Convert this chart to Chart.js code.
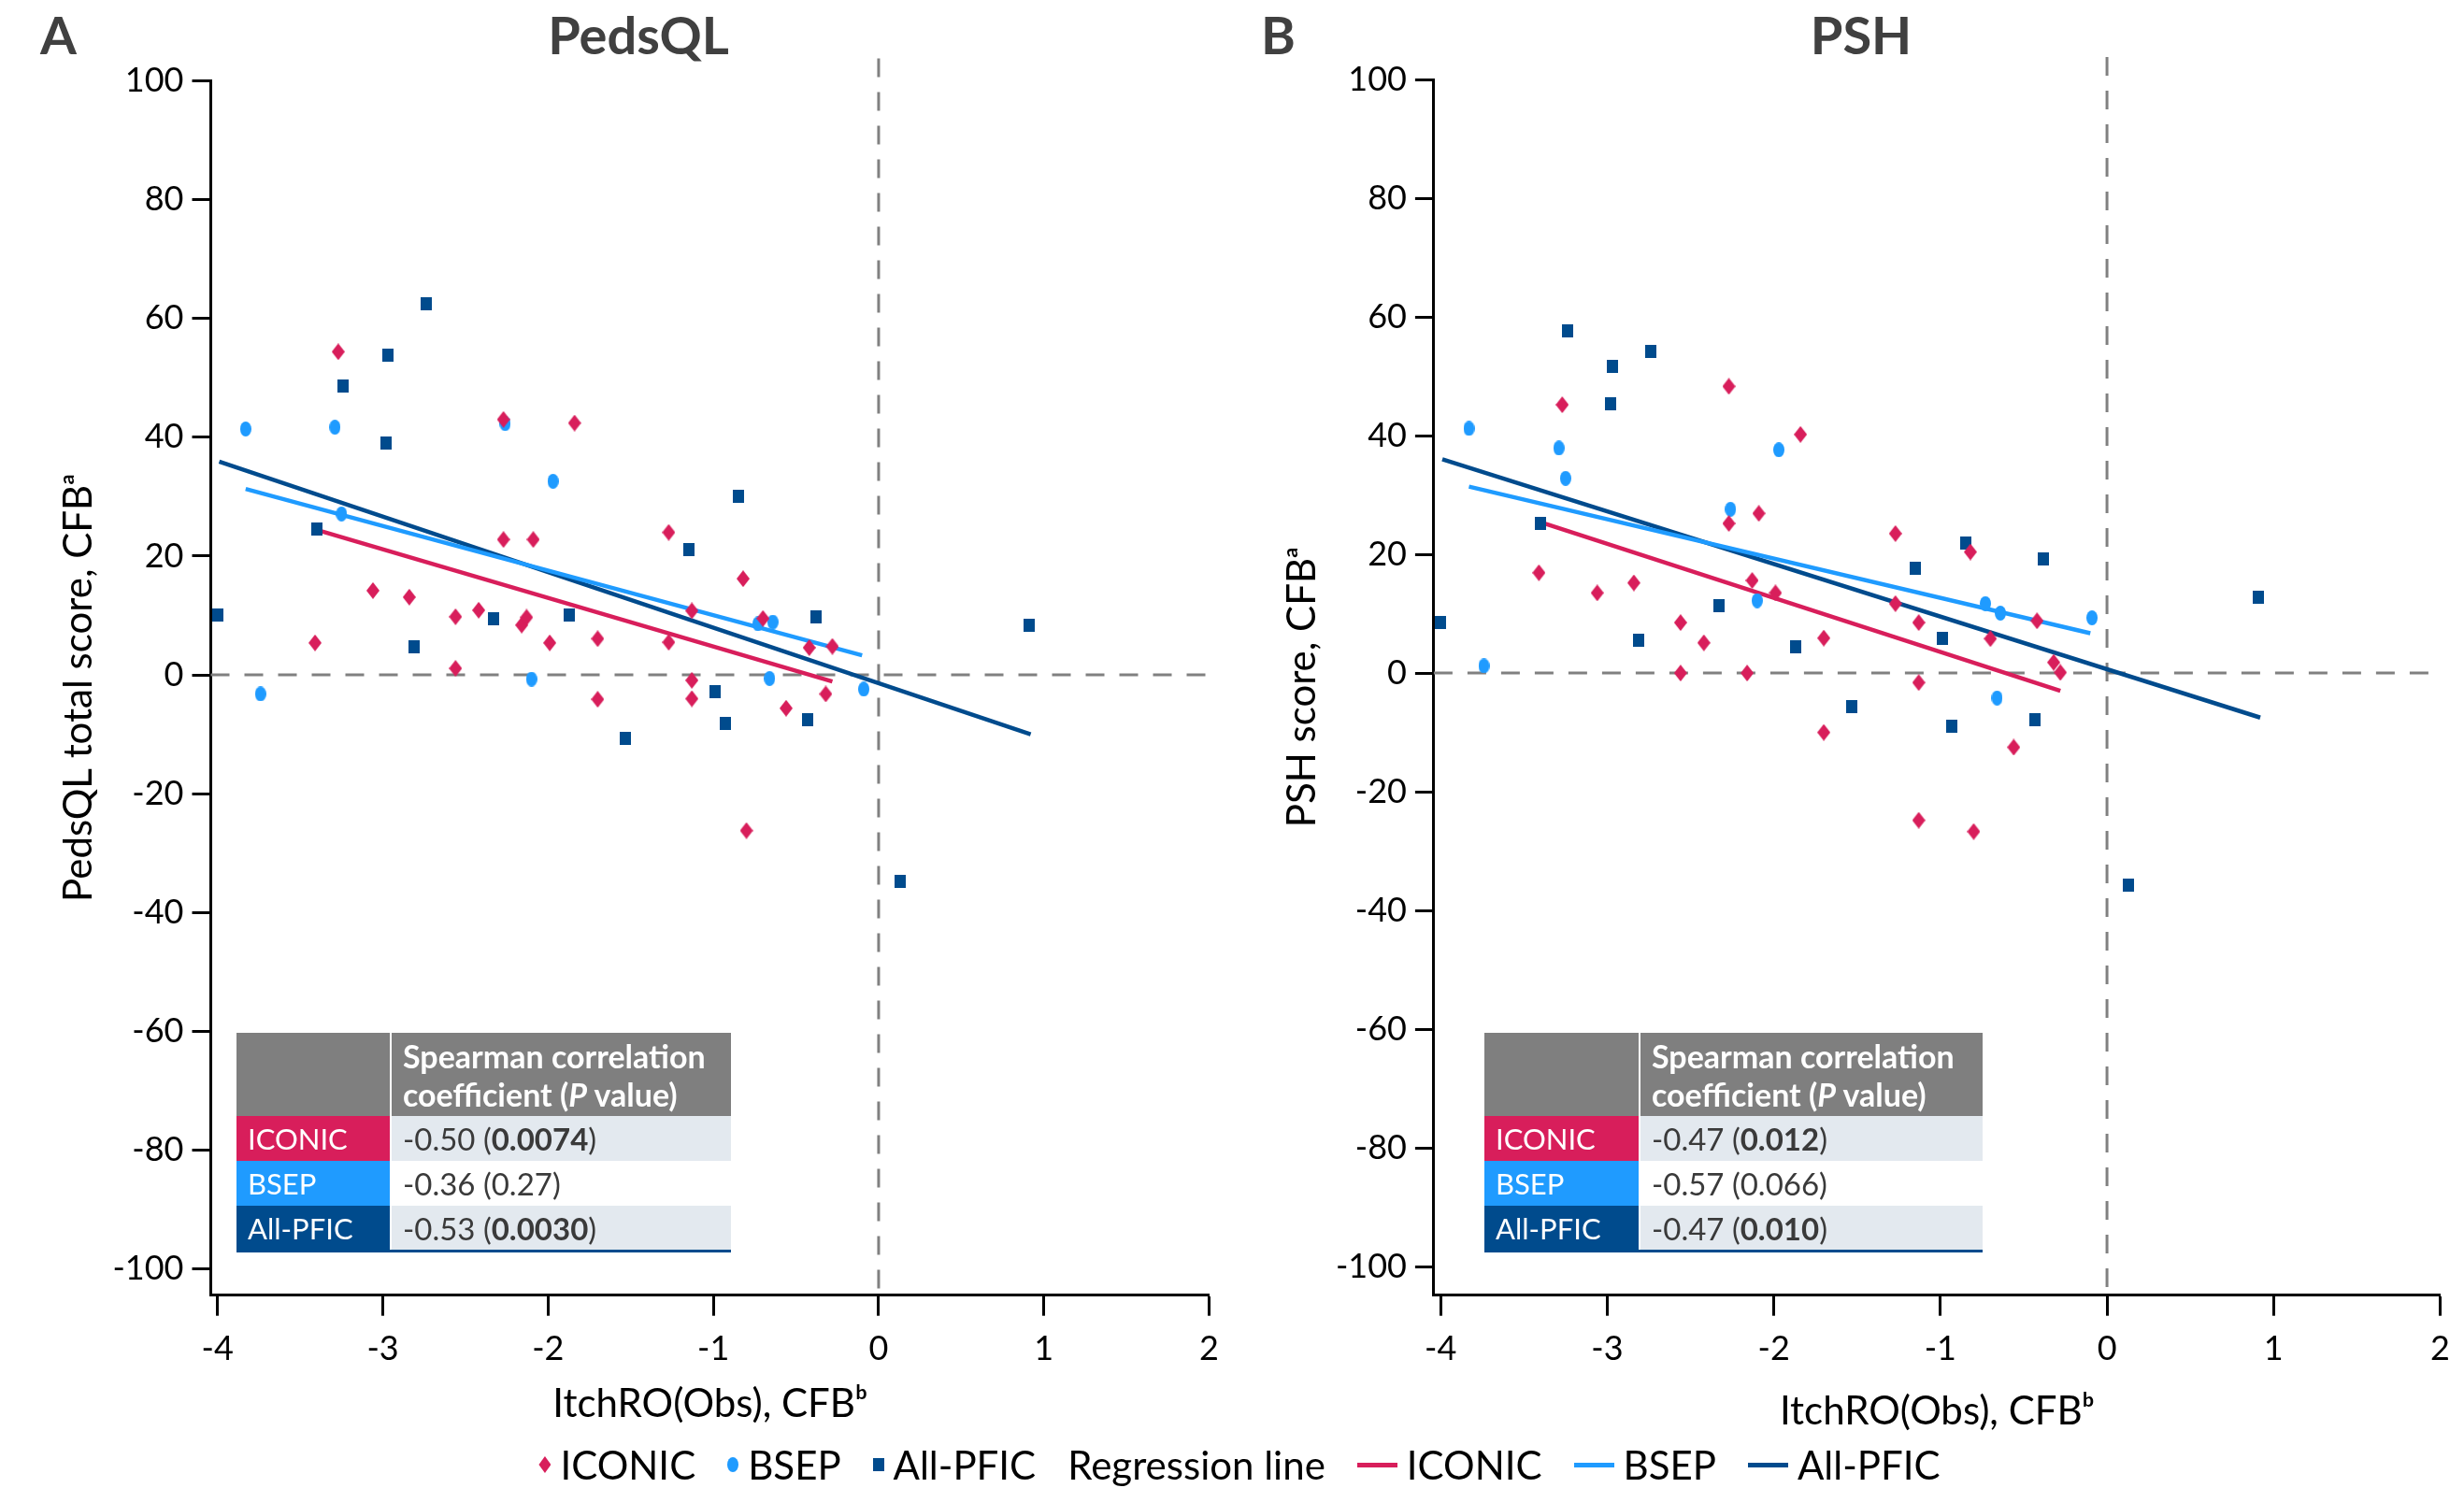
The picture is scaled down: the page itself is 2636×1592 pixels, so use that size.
<!DOCTYPE html>
<html>
<head>
<meta charset="utf-8">
<script src="https://cdn.jsdelivr.net/npm/chart.js@4.4.1/dist/chart.umd.min.js"></script>
<style>
  body { margin: 0; background: #fff; }
  #page { position: relative; width: 2636px; height: 1592px; overflow: hidden; font-family: Lato, "Open Sans", sans-serif; }
  canvas { position: absolute; top: 0; }
  .letter { position: absolute; top: 3px; font-size: 56px; line-height: 1.2; font-weight: bold; color: #404040; }
  .ptitle { position: absolute; top: 3px; width: 200px; text-align: center; font-size: 56px; line-height: 1.2; font-weight: bold; color: #404040; }
  .corr { position: absolute; top: 1105px; display: grid; grid-template-rows: 89px 48px 48px 47px; column-gap: 2px; border-bottom: 3px solid #004b8d; }
  .corr div { display: flex; align-items: center; padding-left: 12px; font-size: 31px; color: #3a3a3a; white-space: nowrap; }
  .corr .hd { background: #7f7f7f; color: #fff; font-weight: bold; font-size: 34px; line-height: 41px; }
  .corr .lab { color: #fff; }
  .corr .val { font-size: 33px; }
  .corr .shade { background: #e3e9ef; }
  #legend { position: absolute; left: 0; top: 1540px; width: 2652px; height: 54px; display: flex; justify-content: center; align-items: center; font-size: 42px; color: #000; }
  #legend .item { display: flex; align-items: center; margin: 0 17px; }
  #legend .mk { display: inline-block; margin-right: 10px; }
  .diamond { width: 13px; height: 18px; clip-path: polygon(50% 0, 100% 50%, 50% 100%, 0 50%); }
  .circle { width: 12px; height: 16px; border-radius: 50%; }
  .square { width: 12px; height: 14px; }
  .line { width: 43px; height: 5px; }
</style>
</head>
<body>
<div id="page">
  <canvas id="chartA" width="1318" height="1560" style="left:0px"></canvas>
  <canvas id="chartB" width="1318" height="1560" style="left:1318px"></canvas>

  <div class="letter" style="left:43px">A</div>
  <div class="ptitle" style="left:583px">PedsQL</div>
  <div class="letter" style="left:1349px">B</div>
  <div class="ptitle" style="left:1891px">PSH</div>

  <div class="corr" id="tableA" style="left:253px; grid-template-columns:164px 363px;"></div>
  <div class="corr" id="tableB" style="left:1588px; grid-template-columns:165px 366px;"></div>

  <div id="legend"></div>
</div>

<script>
// colours
var colIconic = '#d81e5b';
var colBsep = '#1f9bff';
var colPfic = '#004b8d';

// axis ticks
var xTicks = [-4, -3, -2, -1, 0, 1, 2];
var yTicks = [-100, -80, -60, -40, -20, 0, 20, 40, 60, 80, 100];

// ItchRO(Obs) CFB per patient (shared by both panels)
var iconicX = [-3.41,-3.27,-3.06,-2.84,-2.56,-2.56,-2.42,-2.27,-2.27,-2.16,-2.13,-2.09,-1.99,-1.84,-1.70,-1.70,-1.27,-1.27,-1.13,-1.13,-1.13,-0.82,-0.80,-0.70,-0.56,-0.42,-0.32,-0.28];
var iconicPeds = [5.4,54.4,14.2,13.1,9.8,1.1,10.9,43.0,22.8,8.4,9.7,22.8,5.4,42.4,6.1,-4.1,24.0,5.5,10.8,-0.9,-4.0,16.2,-26.2,9.5,-5.6,4.6,-3.2,4.8];
var iconicPsh = [16.9,45.2,13.5,15.2,8.5,0.0,5.1,48.3,25.2,0.0,15.6,26.9,13.5,40.2,5.9,-10.0,23.5,11.7,8.5,-1.6,-24.8,20.4,-26.7,5.8,-12.5,8.8,1.8,0.1];

var bsepX = [-3.83,-3.74,-3.29,-3.25,-2.26,-2.10,-1.97,-0.73,-0.66,-0.64,-0.09];
var bsepPeds = [41.4,-3.2,41.7,27.1,42.3,-0.7,32.6,8.6,-0.6,8.9,-2.4];
var bsepPsh = [41.2,1.2,37.9,32.8,27.6,12.2,37.6,11.7,-4.2,10.1,9.3];

var pficX = [-4.00,-3.40,-3.24,-2.98,-2.97,-2.81,-2.74,-2.33,-1.87,-1.53,-1.15,-0.99,-0.93,-0.85,-0.43,-0.38,0.13,0.91];
var pficPeds = [10.1,24.6,48.7,39.1,53.9,4.7,62.4,9.5,10.1,-10.7,21.1,-2.8,-8.1,30.1,-7.6,9.8,-34.8,8.4];
var pficPsh = [8.5,25.2,57.7,45.3,51.6,5.6,54.2,11.3,4.5,-5.7,17.7,5.9,-8.9,21.9,-7.9,19.3,-35.7,12.7];

// regression lines, end points
var iconicLineX = [-3.41, -0.28];
var bsepLineX = [-3.83, -0.10];
var pficLineX = [-3.99, 0.92];
var iconicLinePeds = [24.5, -1.1];
var bsepLinePeds = [31.3, 3.3];
var pficLinePeds = [35.9, -10.0];
var iconicLinePsh = [25.5, -3.0];
var bsepLinePsh = [31.4, 6.7];
var pficLinePsh = [36.0, -7.5];

// spearman table
var groups = ['ICONIC', 'BSEP', 'All-PFIC'];
var groupCols = [colIconic, colBsep, colPfic];
var pedsRho = ['-0.50', '-0.36', '-0.53'];
var pedsP = ['0.0074', '0.27', '0.0030'];
var pshRho = ['-0.47', '-0.57', '-0.47'];
var pshP = ['0.012', '0.066', '0.010'];

Chart.defaults.font.family = 'Lato, "Open Sans", sans-serif';
Chart.defaults.color = '#000';

function pts(xs, ys) {
  var out = [];
  for (var i = 0; i < xs.length; i++) out.push({x: xs[i], y: ys[i]});
  return out;
}

function marker(shape, color) {
  var w = 12, h = 14;
  if (shape == 'diamond') { w = 14; h = 18; }
  if (shape == 'circle') { w = 12; h = 16; }
  var c = document.createElement('canvas');
  c.width = w; c.height = h;
  var g = c.getContext('2d');
  g.fillStyle = color;
  g.beginPath();
  if (shape == 'diamond') {
    g.moveTo(w / 2, 0); g.lineTo(w, h / 2); g.lineTo(w / 2, h); g.lineTo(0, h / 2);
  } else if (shape == 'circle') {
    g.ellipse(w / 2, h / 2, w / 2, h / 2, 0, 0, Math.PI * 2);
  } else {
    g.rect(0, 0, w, h);
  }
  g.closePath();
  g.fill();
  return c;
}

var diamondImg = marker('diamond', colIconic);
var circleImg = marker('circle', colBsep);
var squareImg = marker('square', colPfic);

// dashed lines through 0 on both axes
var zeroLines = {
  id: 'zeroLines',
  beforeDatasetsDraw: function(chart) {
    var ctx = chart.ctx, a = chart.chartArea;
    var x0 = chart.scales.x.getPixelForValue(0);
    var y0 = chart.scales.y.getPixelForValue(0);
    ctx.save();
    ctx.strokeStyle = '#808080';
    ctx.lineWidth = 3;
    ctx.setLineDash([20, 16]);
    ctx.beginPath();
    ctx.moveTo(a.left, y0); ctx.lineTo(a.right, y0);
    ctx.stroke();
    ctx.beginPath();
    ctx.moveTo(x0, a.top - 24); ctx.lineTo(x0, a.bottom);
    ctx.stroke();
    ctx.restore();
  }
};

function regLine(xs, ys, color) {
  return { data: pts(xs, ys), showLine: true, borderColor: color, borderWidth: 4.5, pointRadius: 0, order: 5 };
}

function scatter(xs, ys, img) {
  return { data: pts(xs, ys), showLine: false, pointStyle: img, pointRadius: 7, order: 1 };
}

function buildPanel(id, p) {
  new Chart(document.getElementById(id), {
    type: 'scatter',
    data: {
      datasets: [
        scatter(iconicX, p.iconic, diamondImg),
        scatter(bsepX, p.bsep, circleImg),
        scatter(pficX, p.pfic, squareImg),
        regLine(iconicLineX, p.iconicLine, colIconic),
        regLine(bsepLineX, p.bsepLine, colBsep),
        regLine(pficLineX, p.pficLine, colPfic)
      ]
    },
    options: {
      responsive: false,
      animation: false,
      events: [],
      layout: { padding: { top: p.top, right: p.right, bottom: 0, left: 0 } },
      plugins: { legend: { display: false }, tooltip: { enabled: false } },
      scales: {
        x: {
          type: 'linear', min: -4.041, max: 2,
          afterBuildTicks: function(s) { s.ticks = xTicks.map(function(v) { return {value: v}; }); },
          afterFit: function(s) { s.height = 1560 - 1385.7; },
          ticks: { font: { size: 36 }, color: '#000', padding: 14, callback: function(v) { return String(v); } },
          grid: { drawOnChartArea: false, drawTicks: true, tickLength: 22, tickWidth: 3, tickColor: '#000' },
          border: { display: true, color: '#000', width: 3 },
          title: { display: true, text: 'ItchRO(Obs), CFBᵇ', font: { size: 42 }, color: '#000', padding: { top: 0, bottom: p.xTitlePad } }
        },
        y: {
          type: 'linear', min: p.yMin, max: 100,
          afterBuildTicks: function(s) { s.ticks = yTicks.map(function(v) { return {value: v}; }); },
          afterFit: function(s) { s.width = p.yWidth; },
          ticks: { font: { size: 36 }, color: '#000', padding: 9, callback: function(v) { return String(v); } },
          grid: { drawOnChartArea: false, drawTicks: true, tickLength: 20, tickWidth: 3, tickColor: '#000' },
          border: { display: true, color: '#000', width: 3 },
          title: { display: true, text: p.yTitle, font: { size: 42 }, color: '#000', padding: { top: p.yTitlePad, bottom: 0 } }
        }
      }
    },
    plugins: [zeroLines]
  });
}

buildPanel('chartA', {
  iconic: iconicPeds, bsep: bsepPeds, pfic: pficPeds,
  iconicLine: iconicLinePeds, bsepLine: bsepLinePeds, pficLine: pficLinePeds,
  yTitle: 'PedsQL total score, CFBᵃ',
  top: 86.5, right: 18, yWidth: 225.5, yMin: -104.4, yTitlePad: 59, xTitlePad: 32
});

buildPanel('chartB', {
  iconic: iconicPsh, bsep: bsepPsh, pfic: pficPsh,
  iconicLine: iconicLinePsh, bsepLine: bsepLinePsh, pficLine: pficLinePsh,
  yTitle: 'PSH score, CFBᵃ',
  top: 85, right: 25.5, yWidth: 215.9, yMin: -104.8, yTitlePad: 50, xTitlePad: 24
});

// correlation tables
function buildTable(id, rho, pv) {
  var el = document.getElementById(id);
  var html = '<div class="hd"></div><div class="hd"><span>Spearman correlation<br>coefficient (<i>P</i>&nbsp;value)</span></div>';
  for (var i = 0; i < groups.length; i++) {
    var p = parseFloat(pv[i]) < 0.05 ? '<b>' + pv[i] + '</b>' : pv[i];
    var shade = i % 2 == 0 ? ' shade' : '';
    html += '<div class="lab" style="background:' + groupCols[i] + '">' + groups[i] + '</div>';
    html += '<div class="val' + shade + '"><span>' + rho[i] + '&nbsp;(' + p + ')</span></div>';
  }
  el.innerHTML = html;
}
buildTable('tableA', pedsRho, pedsP);
buildTable('tableB', pshRho, pshP);

// shared legend
var shapes = ['diamond', 'circle', 'square'];
var leg = '';
for (var i = 0; i < groups.length; i++) {
  leg += '<div class="item"><span class="mk ' + shapes[i] + '" style="background:' + groupCols[i] + '"></span>' + groups[i] + '</div>';
}
leg += '<div class="item">Regression line</div>';
for (var i = 0; i < groups.length; i++) {
  leg += '<div class="item"><span class="mk line" style="background:' + groupCols[i] + '"></span>' + groups[i] + '</div>';
}
document.getElementById('legend').innerHTML = leg;
</script>
</body>
</html>
